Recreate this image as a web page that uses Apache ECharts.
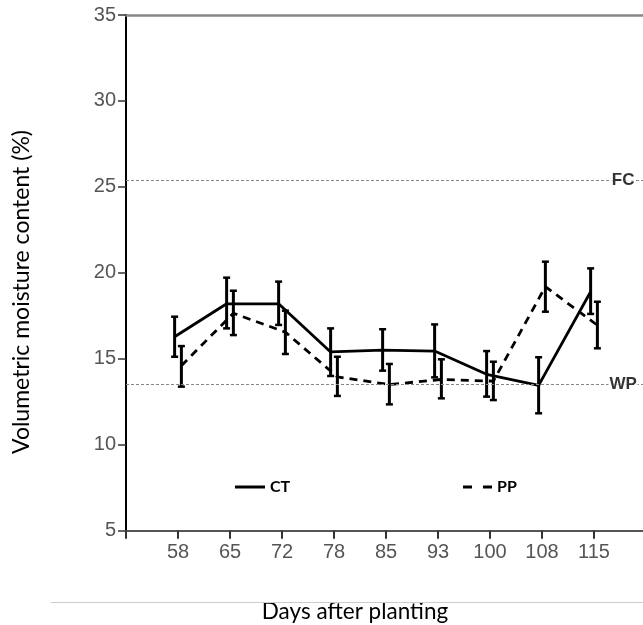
<!DOCTYPE html>
<html><head><meta charset="utf-8">
<script src="https://cdn.jsdelivr.net/npm/echarts@6/dist/echarts.min.js"></script>
<style>html,body{margin:0;padding:0;background:#fff}#c{width:643px;height:625px}</style>
</head><body><div id="c"></div>
<script>
// ---- data ----
const days = ['58', '65', '72', '78', '85', '93', '100', '108', '115'];
const ctMean = [16.28, 18.2, 18.2, 15.4, 15.5, 15.45, 14.1, 13.45, 18.9];
const ctLow  = [15.12, 16.77, 16.97, 14.0, 14.31, 13.92, 12.80, 11.83, 17.61];
const ctHigh = [17.45, 19.72, 19.49, 16.77, 16.72, 17.0, 15.45, 15.09, 20.26];
const ppMean = [14.6, 17.65, 16.55, 13.95, 13.5, 13.8, 13.7, 19.2, 16.95];
const ppLow  = [13.38, 16.38, 15.28, 12.84, 12.35, 12.70, 12.60, 17.74, 15.61];
const ppHigh = [15.74, 18.96, 17.8, 15.12, 14.70, 14.97, 14.83, 20.65, 18.32];
const yMin = 5, yMax = 35, yStep = 5;
const refNames = ['FC', 'WP'];
const refValues = [25.4, 13.5];

// ---- layout / style ----
const DODGE = 0.065;
const LABEL_X = 9.56;
const pts = (m, off) => m.map((v, i) => [i + 1 + off, v]);
const bars = (lo, hi, off) => lo.map((l, i) => [i + 1 + off, l, hi[i]]);

function renderBar(params, api) {
  const x = api.value(0);
  const lo = api.coord([x, api.value(1)]);
  const hi = api.coord([x, api.value(2)]);
  const cap = 3.5;
  const st = { stroke: '#000', lineWidth: 3, fill: null };
  const cs = { stroke: '#000', lineWidth: 2.5, fill: null };
  return { type: 'group', children: [
    { type: 'line', shape: { x1: lo[0], y1: lo[1], x2: hi[0], y2: hi[1] }, style: st },
    { type: 'line', shape: { x1: lo[0] - cap, y1: lo[1], x2: lo[0] + cap, y2: lo[1] }, style: cs },
    { type: 'line', shape: { x1: hi[0] - cap, y1: hi[1], x2: hi[0] + cap, y2: hi[1] }, style: cs }
  ]};
}

const tickFont = '"Liberation Sans Narrow", "Liberation Sans", Arial, sans-serif';
const legendText = { fontFamily: 'Lato', fontWeight: 'bold', fontSize: 16, color: '#000' };
const chart = echarts.init(document.getElementById('c'), null, { renderer: 'canvas' });
chart.setOption({
  animation: false,
  backgroundColor: '#fff',
  grid: { left: 126, top: 15, width: 520, height: 515.7, containLabel: false, outerBoundsMode: 'none' },
  legend: [
    { data: [{ name: 'CT', icon: 'rect' }], left: 230, top: 474, itemWidth: 30, itemHeight: 3,
      selectedMode: false, textStyle: legendText, itemStyle: { color: '#000' } },
    { data: [{ name: 'PP', icon: 'path://M0,0h9v3h-9z M20,0h9v3h-9z' }], left: 458, top: 474,
      itemWidth: 29, itemHeight: 3, selectedMode: false, textStyle: legendText,
      itemStyle: { color: '#000' } }
  ],
  xAxis: [
    { type: 'value', min: 0, max: 10, interval: 1, position: 'bottom',
      axisLine: { onZero: false, lineStyle: { color: '#555', width: 2 } },
      axisTick: { length: 8, lineStyle: { color: '#333', width: 2 } },
      axisLabel: { margin: 12, fontFamily: tickFont, fontSize: 20, color: '#555',
        formatter: v => days[v - 1] || '' },
      splitLine: { show: false } },
    { type: 'value', min: 0, max: 10, position: 'top',
      axisLine: { onZero: false, lineStyle: { color: '#888', width: 2.5 } },
      axisTick: { show: false }, axisLabel: { show: false }, splitLine: { show: false } }
  ],
  yAxis: { type: 'value', min: yMin, max: yMax, interval: yStep,
    axisLine: { show: true, onZero: false, lineStyle: { color: '#000', width: 2 } },
    axisTick: { show: true, length: 8, lineStyle: { color: '#333', width: 1.5 } },
    axisLabel: { margin: 10, fontFamily: tickFont, fontSize: 20, color: '#555' },
    splitLine: { show: false } },
  series: [
    { name: 'CT', type: 'line', data: pts(ctMean, -DODGE), symbol: 'none', z: 3,
      itemStyle: { color: '#000' }, lineStyle: { color: '#000', width: 2.8, type: 'solid' },
      markLine: { silent: true, symbol: 'none', label: { show: false },
        lineStyle: { color: '#888', width: 1, type: [3, 2] },
        data: refValues.map(v => ({ yAxis: v })) } },
    { name: 'PP', type: 'line', data: pts(ppMean, DODGE), symbol: 'none', z: 3,
      itemStyle: { color: '#000' }, lineStyle: { color: '#000', width: 2.8, type: [8, 6] } },
    { name: 'CTerr', type: 'custom', renderItem: renderBar, data: bars(ctLow, ctHigh, -DODGE), z: 4 },
    { name: 'PPerr', type: 'custom', renderItem: renderBar, data: bars(ppLow, ppHigh, DODGE), z: 4 },
    { name: 'ref', type: 'scatter', symbolSize: 1, itemStyle: { color: 'rgba(0,0,0,0)' }, z: 5,
      data: refValues.map((v, i) => [LABEL_X, v, refNames[i]]),
      label: { show: true, position: 'inside', formatter: p => p.data[2],
        fontFamily: '"Liberation Sans", Arial, sans-serif', fontWeight: 'bold', fontSize: 17,
        color: '#000', backgroundColor: '#fff', padding: [0, 1] } }
  ],
  graphic: [
    { type: 'text', x: 22, y: 292, rotation: Math.PI / 2,
      style: { text: 'Volumetric moisture content (%)', font: '23px Lato', fill: '#000',
        textAlign: 'center', textVerticalAlign: 'middle' } },
    { type: 'text', x: 355, y: 612,
      style: { text: 'Days after planting', font: '22.5px Lato', fill: '#000',
        textAlign: 'center', textVerticalAlign: 'middle' } },
    { type: 'line', shape: { x1: 51, y1: 602.5, x2: 643, y2: 602.5 },
      style: { stroke: '#ccc', lineWidth: 1 } }
  ]
});
</script></body></html>
